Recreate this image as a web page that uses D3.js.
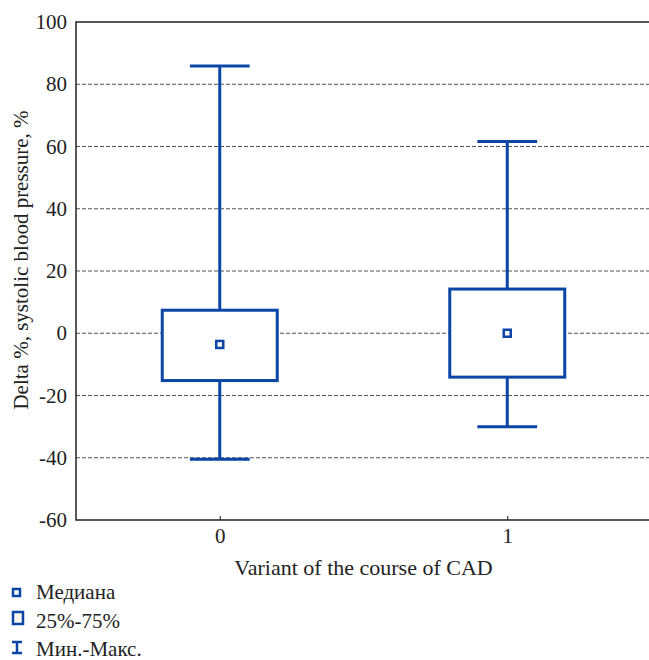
<!DOCTYPE html>
<html>
<head>
<meta charset="UTF-8">
<title>Delta % systolic blood pressure</title>
<script src="https://d3js.org/d3.v7.min.js"></script>
<style>
  body { margin: 0; background: #fff; }
  text { font-family: "Liberation Serif", "DejaVu Serif", serif; fill: #222; }
</style>
</head>
<body>
<div id="chart"></div>
<script>

// data
var groups  = ["0", "1"]
var mins    = [-40.5, -30.0]
var q1s     = [-15.2, -14.1]
var medians = [-3.6, 0.0]
var q3s     = [7.4, 14.2]
var maxs    = [85.9, 61.6]

var yTicks = [-60, -40, -20, 0, 20, 40, 60, 80, 100]
var legendLabels = ["Медиана", "25%-75%", "Мин.-Макс."]

var width = 649, height = 660
// note: "top" is a reserved window global, so plot edges get their own names
var plotL = 76, plotR = 651, plotT = 22, plotB = 520
var blue = "#0b45a6"
var fs = "21px"

var svg = d3.select("#chart").append("svg")
  .attr("width", width)
  .attr("height", height)

var x = d3.scaleLinear().domain([-0.5, 1.5]).range([plotL, plotR])
var y = d3.scaleLinear().domain([-60, 100]).range([plotB, plotT])

// dashed grid lines
svg.append("g").selectAll("line")
  .data(yTicks.filter(function(d) { return d > -60 && d < 100 }))
  .enter().append("line")
  .attr("x1", plotL).attr("x2", plotR)
  .attr("y1", function(d) { return y(d) }).attr("y2", function(d) { return y(d) })
  .attr("stroke", "#555")
  .attr("stroke-width", 1)
  .attr("stroke-dasharray", "4,2")

// frame: top, left, bottom
svg.append("path")
  .attr("d", "M" + plotR + "," + plotT + "H" + plotL + "V" + plotB + "H" + plotR)
  .attr("fill", "none")
  .attr("stroke", "#222")
  .attr("stroke-width", 1.5)

// y axis labels
var yAxis = d3.axisLeft(y).tickValues(yTicks).tickSize(0).tickPadding(9)
  .tickFormat(function(d) { return String(d) })   // plain hyphen minus like the original
var gy = svg.append("g").attr("transform", "translate(" + plotL + ",0)").call(yAxis)
gy.select(".domain").remove()
gy.selectAll("text")
  .style("font-family", "Liberation Serif")
  .style("font-size", fs)
  .attr("fill", "#222")

// x axis, ticks point inward
var xAxis = d3.axisBottom(x).tickValues([0, 1]).tickFormat(function(d) { return groups[d] })
  .tickSize(-4).tickPadding(8)
var gx = svg.append("g").attr("transform", "translate(0," + plotB + ")").call(xAxis)
gx.select(".domain").remove()
gx.selectAll("line").attr("stroke", "#222")
gx.selectAll("text")
  .style("font-family", "Liberation Serif")
  .style("font-size", fs)
  .attr("fill", "#222")

// axis titles
svg.append("text")
  .attr("x", (plotL + plotR) / 2)
  .attr("y", 575)
  .attr("text-anchor", "middle")
  .style("font-size", "22px")
  .text("Variant of the course of CAD")

svg.append("text")
  .attr("transform", "translate(28,260) rotate(-90)")
  .attr("text-anchor", "middle")
  .style("font-size", fs)
  .text("Delta %, systolic blood pressure, %")

// box plots
var boxHalf = 0.2, capHalf = 0.104
var items = groups.map(function(g, i) {
  return { i: i, min: mins[i], q1: q1s[i], med: medians[i], q3: q3s[i], max: maxs[i] }
})

var box = svg.append("g").selectAll("g").data(items).enter().append("g")

// whisker line
box.append("line")
  .attr("x1", function(d) { return x(d.i) }).attr("x2", function(d) { return x(d.i) })
  .attr("y1", function(d) { return y(d.min) }).attr("y2", function(d) { return y(d.max) })
  .attr("stroke", blue).attr("stroke-width", 3)

// caps
box.selectAll(".cap")
  .data(function(d) { return [{ i: d.i, v: d.min }, { i: d.i, v: d.max }] })
  .enter().append("line")
  .attr("class", "cap")
  .attr("x1", function(d) { return x(d.i - capHalf) }).attr("x2", function(d) { return x(d.i + capHalf) })
  .attr("y1", function(d) { return y(d.v) }).attr("y2", function(d) { return y(d.v) })
  .attr("stroke", blue).attr("stroke-width", 3)

// box 25-75
box.append("rect")
  .attr("x", function(d) { return x(d.i - boxHalf) })
  .attr("width", function(d) { return x(d.i + boxHalf) - x(d.i - boxHalf) })
  .attr("y", function(d) { return y(d.q3) })
  .attr("height", function(d) { return y(d.q1) - y(d.q3) })
  .attr("fill", "#fff")
  .attr("stroke", blue).attr("stroke-width", 3)

// median marker
box.append("rect")
  .attr("x", function(d) { return x(d.i) - 3.5 })
  .attr("y", function(d) { return y(d.med) - 3.5 })
  .attr("width", 7).attr("height", 7)
  .attr("fill", "#fff")
  .attr("stroke", blue).attr("stroke-width", 2.5)

// legend
var lg = svg.append("g")
var rowY = [593, 622, 650]

lg.append("rect").attr("x", 13).attr("y", rowY[0] - 4).attr("width", 7).attr("height", 7)
  .attr("fill", "#fff").attr("stroke", blue).attr("stroke-width", 2.5)
lg.append("rect").attr("x", 13).attr("y", rowY[1] - 10).attr("width", 10).attr("height", 12)
  .attr("fill", "#fdf8ea").attr("stroke", blue).attr("stroke-width", 2.5)
lg.append("path")
  .attr("d", "M12," + (rowY[2] - 8) + "H22M17," + (rowY[2] - 8) + "V" + (rowY[2] + 3) + "M12," + (rowY[2] + 3) + "H22")
  .attr("fill", "none").attr("stroke", blue).attr("stroke-width", 2.5)

lg.selectAll("text").data(legendLabels).enter().append("text")
  .attr("x", 36)
  .attr("y", function(d, i) { return rowY[i] + 6 })
  .style("font-size", fs)
  .text(function(d) { return d })

</script>
</body>
</html>
